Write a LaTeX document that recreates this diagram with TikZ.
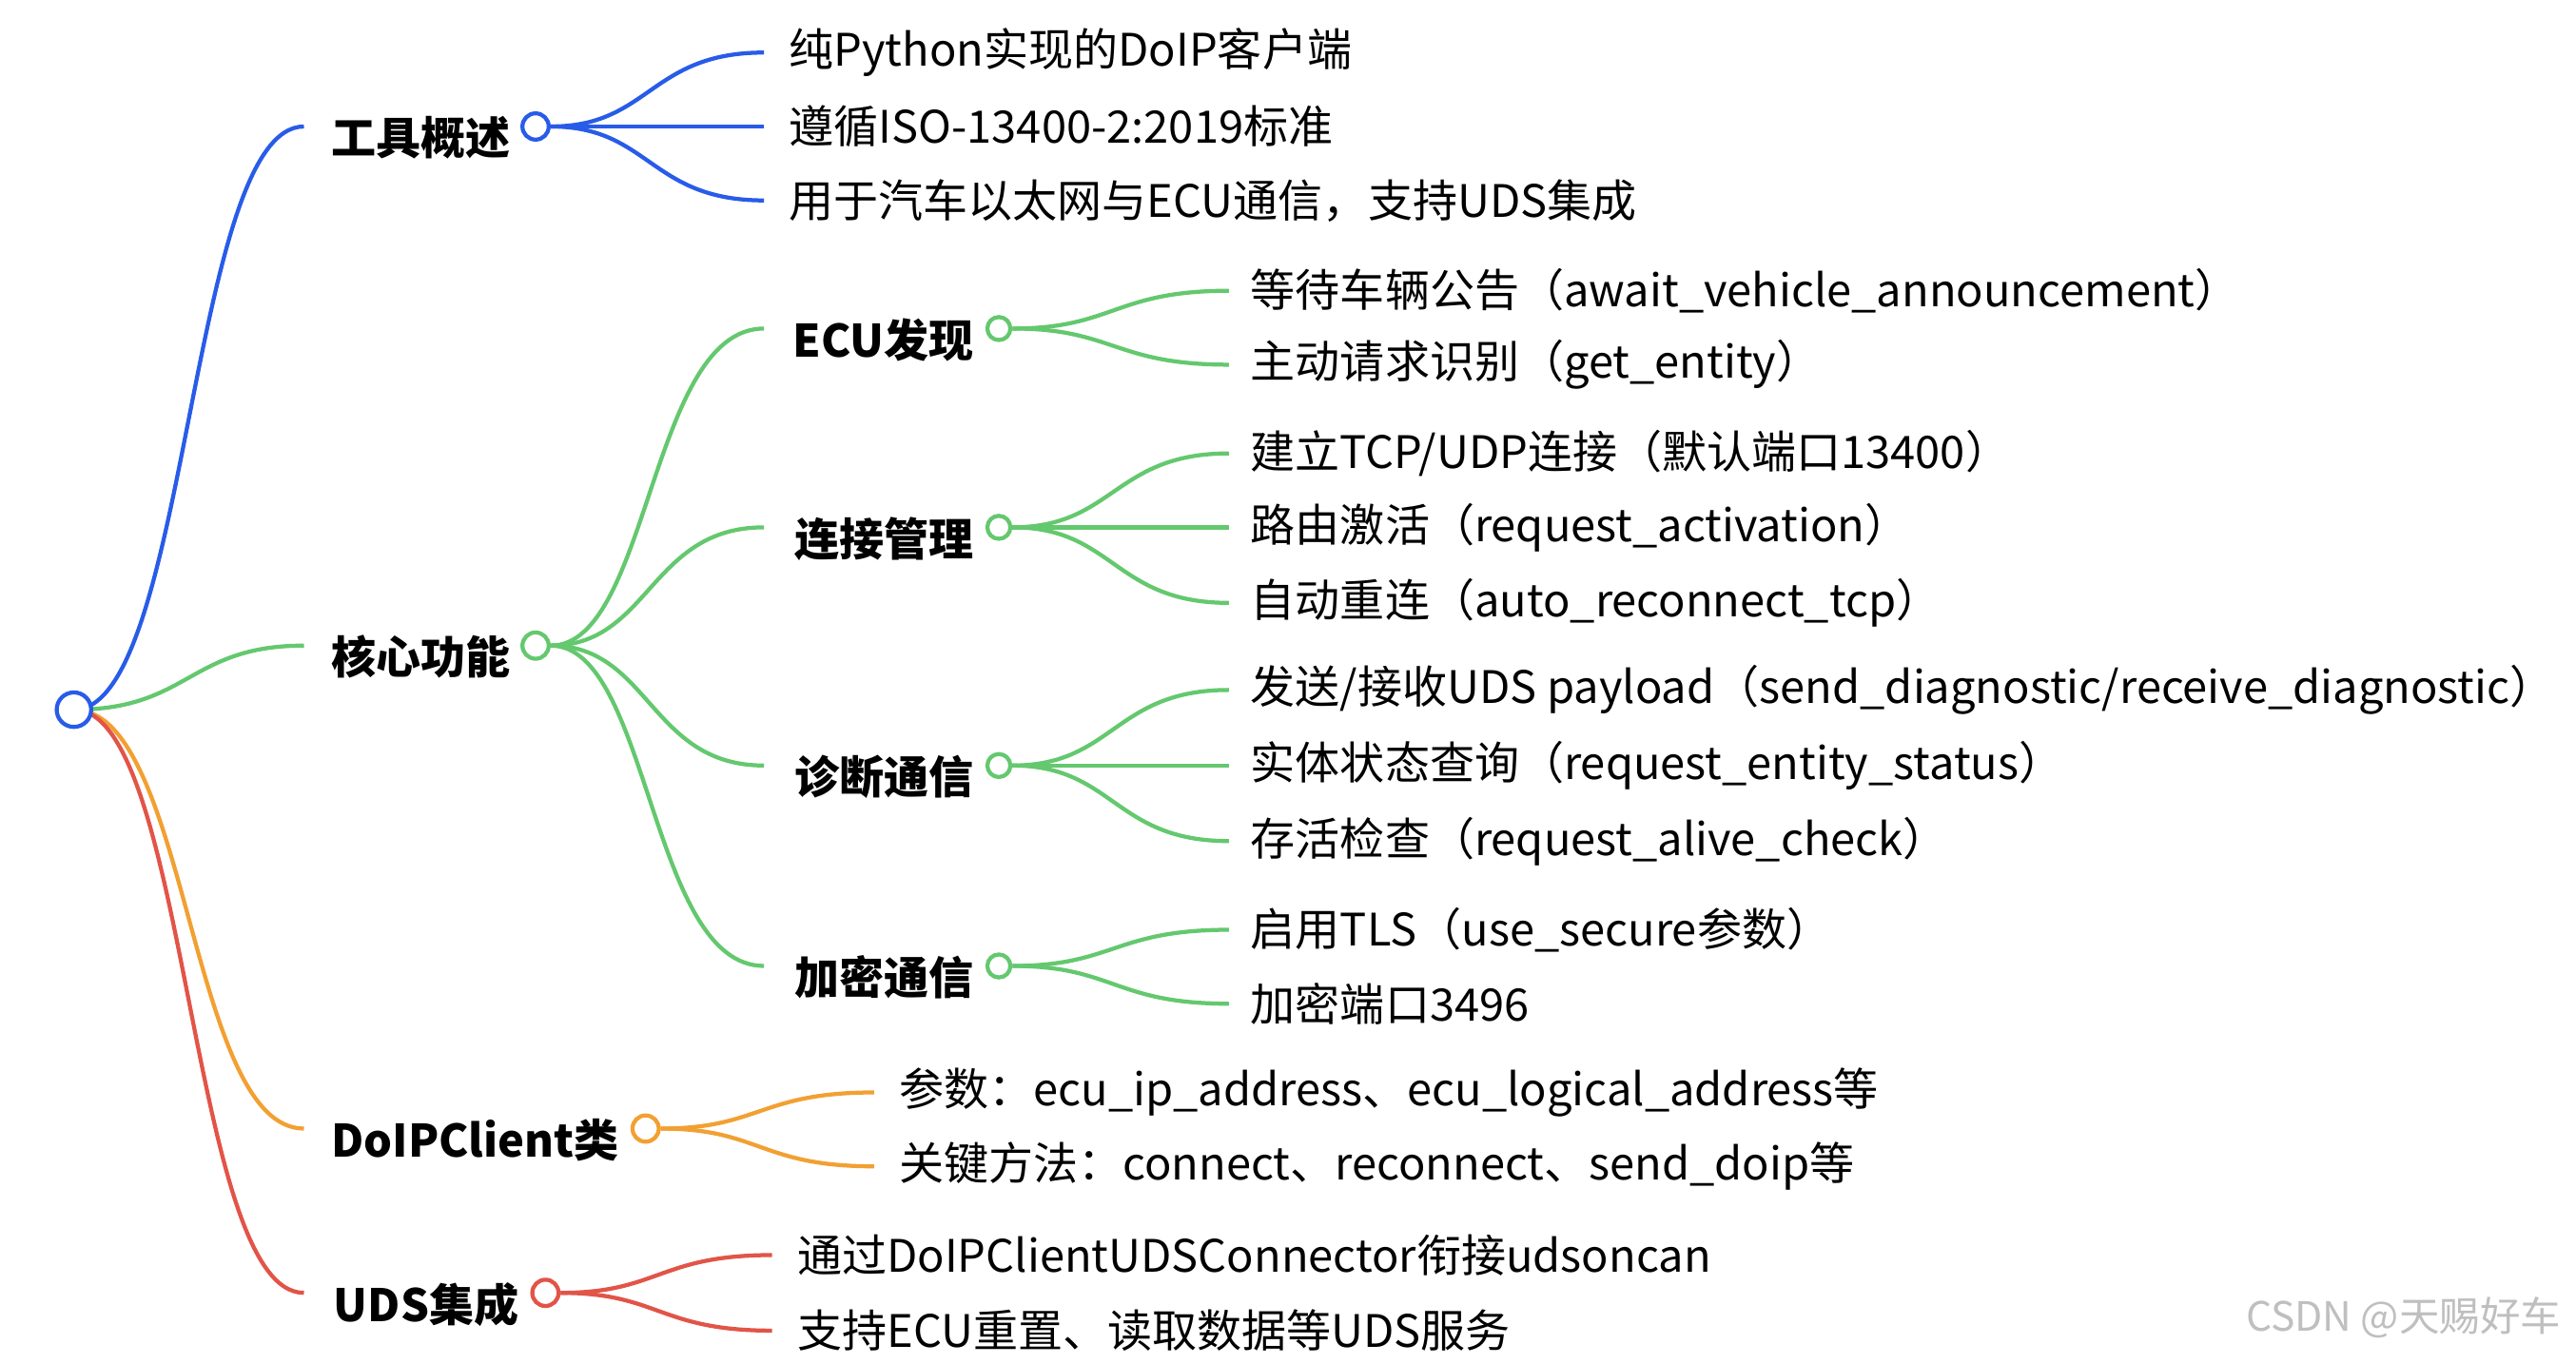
\documentclass[tikz,border=0pt]{standalone}
\usepackage{fontspec}
\setmainfont{Noto Sans CJK SC}
\usetikzlibrary{positioning,calc}
\definecolor{cblue}{RGB}{40,92,232}
\definecolor{cgreen}{RGB}{100,200,110}
\definecolor{corange}{RGB}{242,160,50}
\definecolor{cred}{RGB}{226,84,72}
\tikzset{
  dot/.style={circle,draw,fill=white,line width=1.4pt,inner sep=0pt,minimum size=#1},
  dot/.default=0.32cm,
  branch/.style={line width=1.4pt,
    to path={let \p1=(\tikztostart), \p2=(\tikztotarget) in
      .. controls ({(\x1+\x2)/2},\y1) and ({(\x1+\x2)/2},\y2) .. (\tikztotarget)}},
  head/.style={anchor=east,font=\fontsize{15.5}{18}\selectfont\bfseries,inner sep=0pt},
  leaf/.style={anchor=west,font=\fontsize{15.5}{18}\selectfont,inner sep=0pt}
}
\begin{document}
\begin{tikzpicture}
	\useasboundingbox[fill=white] (0,0) rectangle (31.36,-16.6);

	% Root
	\coordinate (root) at (0.9,-8.64);

	% Tool overview
	\coordinate (e-tool) at (3.7,-1.54);
	\node [dot, draw=cblue] (c-tool) at (6.52,-1.54) {};
	\node [head] (tool) at (6.22,-1.68) {工具概述};
	\draw [branch, cblue] (root) to (e-tool);
	\foreach \pos/\t [count=\i] in {-0.64/纯Python实现的DoIP客户端,
		-1.54/遵循ISO-13400-2:2019标准,
		-2.44/{用于汽车以太网与ECU通信，支持UDS集成}} {
		\coordinate (e-tool-\i) at (9.3,\pos);
		\node [leaf] (tool-\i) at (9.6,\pos) {\t};
		\draw [branch, cblue] (c-tool) to (e-tool-\i);
	}

	% Core functions
	\coordinate (e-core) at (3.7,-7.86);
	\node [dot, draw=cgreen] (c-core) at (6.52,-7.86) {};
	\node [head] (core) at (6.22,-8.0) {核心功能};
	\draw [branch, cgreen] (root) to (e-core);

	\foreach \key/\pos/\t in {ecu/-4.0/ECU发现, conn/-6.42/连接管理,
		diag/-9.32/诊断通信, tls/-11.76/加密通信} {
		\coordinate (e-\key) at (9.3,\pos);
		\node [dot=0.28cm, draw=cgreen] (c-\key) at (12.16,\pos) {};
		\node [head] (\key) at (11.86,\pos-0.14) {\t};
		\draw [branch, cgreen] (c-core) to (e-\key);
	}

	\foreach \key/\pos/\t [count=\i] in {ecu/-3.54/{等待车辆公告（await\_vehicle\_announcement）},
		ecu/-4.44/{主动请求识别（get\_entity）},
		conn/-5.52/{建立TCP/UDP连接（默认端口13400）},
		conn/-6.42/{路由激活（request\_activation）},
		conn/-7.34/{自动重连（auto\_reconnect\_tcp）},
		diag/-8.4/{发送/接收UDS payload（send\_diagnostic/receive\_diagnostic）},
		diag/-9.32/{实体状态查询（request\_entity\_status）},
		diag/-10.24/{存活检查（request\_alive\_check）},
		tls/-11.32/{启用TLS（use\_secure参数）},
		tls/-12.22/{加密端口3496}} {
		\coordinate (e-sub-\i) at (14.96,\pos);
		\node [leaf] (sub-\i) at (15.22,\pos) {\t};
		\draw [branch, cgreen] (c-\key) to (e-sub-\i);
	}

	% DoIPClient class
	\coordinate (e-cls) at (3.7,-13.74);
	\node [dot, draw=corange] (c-cls) at (7.86,-13.74) {};
	\node [head] (cls) at (7.54,-13.88) {DoIPClient类};
	\draw [branch, corange] (root) to (e-cls);
	\foreach \pos/\t [count=\i] in {-13.3/参数：ecu\_ip\_address、ecu\_logical\_address等,
		-14.2/关键方法：connect、reconnect、send\_doip等} {
		\coordinate (e-cls-\i) at (10.64,\pos);
		\node [leaf] (cls-\i) at (10.94,\pos) {\t};
		\draw [branch, corange] (c-cls) to (e-cls-\i);
	}

	% UDS integration
	\coordinate (e-uds) at (3.7,-15.74);
	\node [dot, draw=cred] (c-uds) at (6.64,-15.74) {};
	\node [head] (uds) at (6.32,-15.88) {UDS集成};
	\draw [branch, cred] (root) to (e-uds);
	\foreach \pos/\t [count=\i] in {-15.28/通过DoIPClientUDSConnector衔接udsoncan,
		-16.2/支持ECU重置、读取数据等UDS服务} {
		\coordinate (e-uds-\i) at (9.4,\pos);
		\node [leaf] (uds-\i) at (9.7,\pos) {\t};
		\draw [branch, cred] (c-uds) to (e-uds-\i);
	}

	\node [dot=0.42cm, draw=cblue] (c-root) at (root) {};

	% Watermark
	\node [anchor=east, text=black!25, font=\fontsize{14}{16}\selectfont] (mark) at (31.3,-16.04) {CSDN @天赐好车};
\end{tikzpicture}
\end{document}
